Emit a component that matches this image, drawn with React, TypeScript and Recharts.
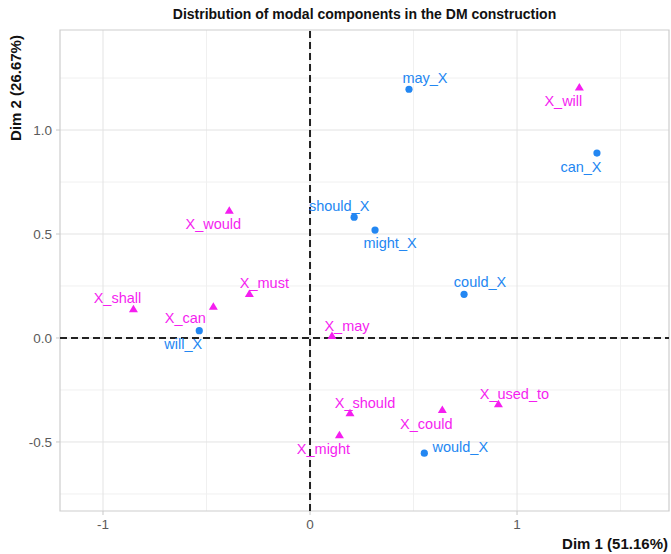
import { ScatterChart, Scatter, XAxis, YAxis, CartesianGrid, ReferenceLine, ReferenceArea } from 'recharts';

// row points (blue circles)
const rowNames = ['may_X', 'can_X', 'should_X', 'might_X', 'could_X', 'will_X', 'would_X'];
const rowDim1 = [0.478, 1.386, 0.213, 0.314, 0.744, -0.535, 0.552];
const rowDim2 = [1.196, 0.889, 0.581, 0.519, 0.21, 0.035, -0.554];

// column points (magenta triangles)
const colNames = ['X_will', 'X_would', 'X_shall', 'X_can', 'X_must', 'X_may', 'X_should', 'X_might', 'X_could', 'X_used_to'];
const colDim1 = [1.301, -0.39, -0.853, -0.467, -0.293, 0.106, 0.193, 0.142, 0.639, 0.91];
const colDim2 = [1.205, 0.612, 0.138, 0.15, 0.212, 0.01, -0.362, -0.468, -0.346, -0.319];

const xTicks = [-1, 0, 1];
const yTicks = [-0.5, 0, 0.5, 1];
const xMinor = [-0.5, 0.5, 1.5];
const yMinor = [-0.75, -0.25, 0.25, 0.75, 1.25];

// ggrepel-like label placement (pixels from point)
const labelOffsets: Record<string, [number, number]> = {
  may_X: [16, -11], can_X: [-16, 14], should_X: [-15, -11], might_X: [15, 13],
  could_X: [16, -12], will_X: [-16, 13], would_X: [36, -6],
  X_will: [-16, 14], X_would: [-16, 13], X_shall: [-16, -11], X_can: [-28, 11],
  X_must: [15, -11], X_may: [15, -10], X_should: [15, -10], X_might: [-16, 14],
  X_could: [-16, 14], X_used_to: [16, -10],
};

const X_DOMAIN: [number, number] = [-1.2077, 1.734];
const Y_DOMAIN: [number, number] = [-0.832, 1.481];

const BLUE = '#2387f2';
const PINK = '#f51ef0';
const FONT = '"Liberation Sans", Arial, sans-serif';

const rows = rowNames.map((name, i) => ({ name, x: rowDim1[i], y: rowDim2[i] }));
const cols = colNames.map((name, i) => ({ name, x: colDim1[i], y: colDim2[i] }));

function PointShape(props: any) {
  const { cx, cy, payload, kind } = props;
  const color = kind === 'row' ? BLUE : PINK;
  const [dx, dy] = labelOffsets[payload.name] || [0, -12];
  return (
    <g>
      {kind === 'row' ? (
        <circle cx={cx} cy={cy} r={3.6} fill={color} />
      ) : (
        <polygon points={`${cx},${cy - 4.5} ${cx - 4.5},${cy + 3} ${cx + 4.5},${cy + 3}`} fill={color} />
      )}
      <text x={cx + dx} y={cy + dy} textAnchor="middle" dominantBaseline="central"
        fontSize={14.5} fontFamily={FONT} fill={color}>{payload.name}</text>
    </g>
  );
}

export default function App() {
  const tickStyle = { fontSize: 13.5, fill: '#5a5a5a', fontFamily: FONT };
  return (
    <div style={{ position: 'absolute', left: 0, top: 0, width: 671, height: 554, background: '#fff' }}>
      <div style={{ position: 'absolute', left: 60, width: 609, top: 6, textAlign: 'center', whiteSpace: 'nowrap',
        fontFamily: FONT, fontWeight: 'bold', fontSize: 14, lineHeight: '16px', color: '#111' }}>
        Distribution of modal components in the DM construction
      </div>
      <div style={{ position: 'absolute', left: 15, top: 88, width: 'max-content', transform: 'translate(-50%, -50%) rotate(-90deg)', whiteSpace: 'nowrap',
        fontFamily: FONT, fontWeight: 'bold', fontSize: 15, color: '#111' }}>
        Dim 2 (26.67%)
      </div>
      <div style={{ position: 'absolute', right: 3, top: 543, transform: 'translateY(-50%)', whiteSpace: 'nowrap',
        fontFamily: FONT, fontWeight: 'bold', fontSize: 15, color: '#111' }}>
        Dim 1 (51.16%)
      </div>
      <ScatterChart width={671} height={554} margin={{ top: 30, right: 2, bottom: 13, left: 0 }}>
        <CartesianGrid stroke="#f0f0f0" horizontalValues={yMinor} verticalValues={xMinor} />
        <CartesianGrid stroke="#e3e3e3" horizontalValues={yTicks} verticalValues={xTicks} />
        <XAxis type="number" dataKey="x" domain={X_DOMAIN} allowDataOverflow ticks={xTicks} height={30}
          axisLine={false} tickSize={4} tickMargin={4} tickLine={{ stroke: '#c8c8c8' }} tick={tickStyle} />
        <YAxis type="number" dataKey="y" domain={Y_DOMAIN} allowDataOverflow ticks={yTicks} width={60}
          axisLine={false} tickSize={4} tickMargin={4} tickLine={{ stroke: '#c8c8c8' }} tick={tickStyle}
          tickFormatter={(v: number) => v.toFixed(1)} />
        <ReferenceArea x1={X_DOMAIN[0]} x2={X_DOMAIN[1]} y1={Y_DOMAIN[0]} y2={Y_DOMAIN[1]}
          fill="none" fillOpacity={0} stroke="#cdcdcd" strokeWidth={1.2} />
        <ReferenceLine x={0} stroke="#222" strokeWidth={2} strokeDasharray="7 4" />
        <ReferenceLine y={0} stroke="#222" strokeWidth={2} strokeDasharray="7 4" />
        <Scatter data={cols} isAnimationActive={false} shape={(p: any) => <PointShape {...p} kind="col" />} />
        <Scatter data={rows} isAnimationActive={false} shape={(p: any) => <PointShape {...p} kind="row" />} />
      </ScatterChart>
    </div>
  );
}
